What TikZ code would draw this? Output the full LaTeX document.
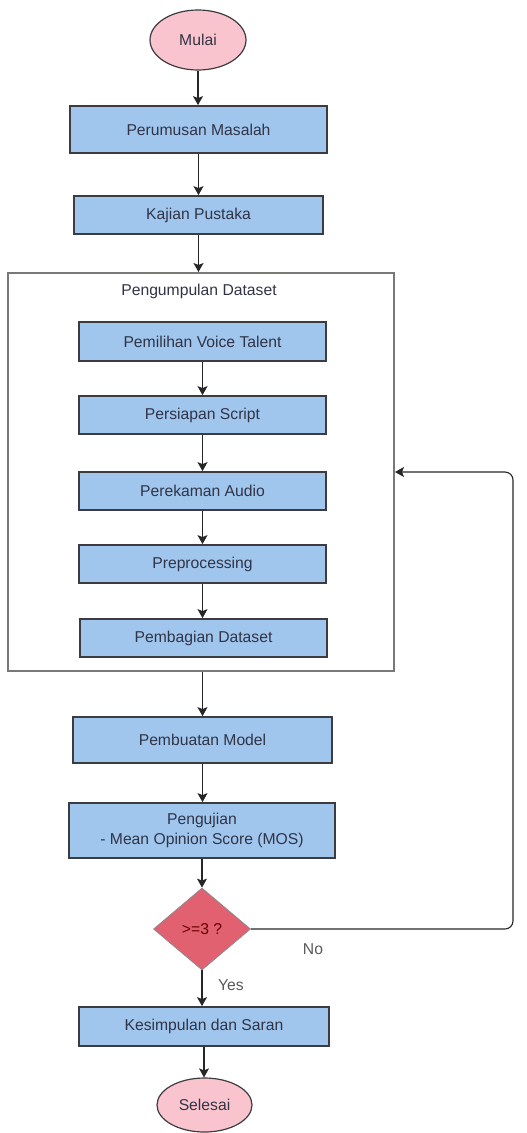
\documentclass[tikz,border=0pt]{standalone}
\usepackage{fontspec}
\setmainfont{Liberation Sans}
\usetikzlibrary{arrows.meta,shapes.geometric,calc}
\definecolor{boxfill}{RGB}{160,198,238}
\definecolor{pinkfill}{RGB}{250,196,207}
\definecolor{diafill}{RGB}{226,97,112}
\definecolor{txt}{RGB}{48,52,70}
\definecolor{boxline}{RGB}{60,60,64}
\definecolor{frameline}{RGB}{120,120,120}
\begin{document}
\begin{tikzpicture}[x=1pt,y=-1pt,
  every node/.style={font=\fontsize{15.7}{20}\selectfont, text=txt},
  procbox/.style={draw=boxline, line width=1.8pt, fill=boxfill, rectangle, inner sep=0pt},
  termnode/.style={draw=boxline, line width=1.2pt, fill=pinkfill, ellipse, inner sep=0pt},
  decnode/.style={draw=boxline!60, line width=0.8pt, fill=diafill, diamond, inner sep=0pt, text=red!40!black},
  framebox/.style={draw=frameline, line width=2pt, rectangle, inner sep=0pt},
  flow/.style={draw=black!85, line width=1.1pt, -{Stealth[length=9pt,width=10pt,inset=2pt]}},
  lbl/.style={text=black!65}
]
\useasboundingbox (0,0) rectangle (527,1133);

\node[termnode, minimum width=96pt, minimum height=60pt] (mulai) at (198,40) {Mulai};
\node[procbox, minimum width=257pt, minimum height=47pt] (rumus) at (198.5,129.5) {Perumusan Masalah};
\node[procbox, minimum width=249pt, minimum height=38pt] (kajian) at (198.5,215) {Kajian Pustaka};

\node[framebox, minimum width=386pt, minimum height=398pt] (frame) at (201,472) {};
\node (framelbl) at (199,291) {Pengumpulan Dataset};

\node[procbox, minimum width=247pt, minimum height=39pt] (pilih) at (202.5,341.5) {Pemilihan Voice Talent};
\node[procbox, minimum width=247pt, minimum height=38pt] (siap) at (202.5,415) {Persiapan Script};
\node[procbox, minimum width=247pt, minimum height=38pt] (rekam) at (202.5,491) {Perekaman Audio};
\node[procbox, minimum width=247pt, minimum height=38pt] (prep) at (202.5,564) {Preprocessing};
\node[procbox, minimum width=247pt, minimum height=38pt] (bagi) at (203.5,638) {Pembagian Dataset};

\node[procbox, minimum width=259pt, minimum height=46pt] (model) at (202.5,740) {Pembuatan Model};
\node[procbox, minimum width=266pt, minimum height=55pt, align=center] (uji) at (202,830.5) {Pengujian\\- Mean Opinion Score (MOS)};
\node[decnode, minimum width=97pt, minimum height=82pt] (dec) at (202,929) {>=3 ?};
\node[procbox, minimum width=250pt, minimum height=39pt] (simpul) at (204,1026.5) {Kesimpulan dan Saran};
\node[termnode, minimum width=95pt, minimum height=54pt] (selesai) at (204.5,1105) {Selesai};

\node[lbl] (nolbl) at (313,949) {No};
\node[lbl] (yeslbl) at (231,985) {Yes};

\coordinate (loopc) at (513,472);

\draw[flow] (mulai.south) -- (mulai.south |- rumus.north);
\draw[flow] (rumus.south) -- (rumus.south |- kajian.north);
\draw[flow] (kajian.south) -- (kajian.south |- frame.north);
\draw[flow] (pilih.south) -- (siap.north);
\draw[flow] (siap.south) -- (rekam.north);
\draw[flow] (rekam.south) -- (prep.north);
\draw[flow] (prep.south) -- (prep.south |- bagi.north);
\draw[flow] (model.south |- frame.south) -- (model.north);
\draw[flow] (model.south) -- (model.south |- uji.north);
\draw[flow] (uji.south) -- (dec.north);
\draw[flow] (dec.south) -- (dec.south |- simpul.north);
\draw[flow] (simpul.south) -- (simpul.south |- selesai.north);
\draw[flow, rounded corners=8pt] (dec.east) -| (loopc) -- (frame.east);
\end{tikzpicture}
\end{document}
